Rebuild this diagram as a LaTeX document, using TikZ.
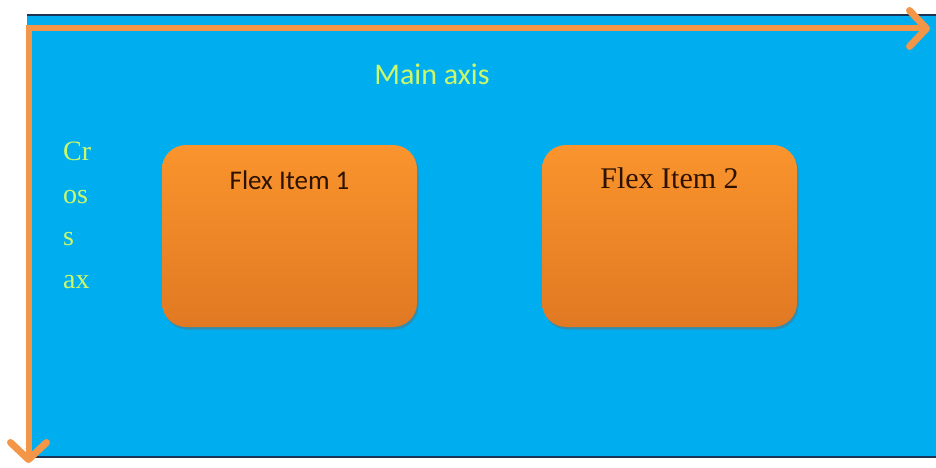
\documentclass[tikz,border=0pt]{standalone}
\usepackage{fontspec}
\newfontfamily\calibriface{Carlito}
\newfontfamily\serifface{Liberation Serif}
\usetikzlibrary{arrows.meta,shadows}
\definecolor{flexblue}{RGB}{0,174,239}
\definecolor{edgenavy}{RGB}{28,52,88}
\definecolor{axisorange}{RGB}{244,150,72}
\definecolor{itemtop}{RGB}{250,148,45}
\definecolor{itembot}{RGB}{224,121,34}
\definecolor{itemtext}{RGB}{45,18,0}
\definecolor{axisgreen}{RGB}{205,248,105}
\tikzset{
  flexitem/.style={rounded corners=24pt, top color=itemtop, bottom color=itembot,
    draw=none, minimum width=255pt, minimum height=182pt, inner sep=0pt,
    drop shadow={shadow xshift=1.5pt, shadow yshift=-2.5pt, fill=black!60, opacity=.45}},
  axisline/.style={line width=6pt, draw=axisorange,
    -{Straight Barb[length=17pt,width=36pt,line width=7pt,round]}},
  axistext/.style={text=axisgreen, inner sep=0pt}
}
\begin{document}
\begin{tikzpicture}[x=1pt, y=-1pt]
  \useasboundingbox (0,0) rectangle (936,468);
  % flex container
  \fill[flexblue] (27,14) rectangle (936,458);
  \draw[edgenavy, line width=2.5pt] (27,15) -- (936,15);
  \draw[edgenavy, line width=2.5pt] (30,457) -- (936,457);
  % axes
  \coordinate (origin) at (28.5,28.5);
  \coordinate (mainend) at (930,28.5);
  \coordinate (crossend) at (28.5,463);
  \draw[axisline] (origin -| 25.5,0) -- (mainend);
  \draw[axisline] (origin |- 0,25.5) -- (crossend);
  \node[axistext, anchor=base, font=\calibriface\fontsize{30}{36}\selectfont] (mainlbl) at (432,85) {Main axis};
  \node[axistext, anchor=north west, align=left, font=\serifface\fontsize{28}{42.5}\selectfont] (crosslbl) at (63,142) {Cr\\os\\s\\ax};
  % flex items
  \node[flexitem, label={[anchor=base, yshift=-45pt, text=itemtext, font=\calibriface\fontsize{27}{32}\selectfont]north:Flex Item 1}] (item1) at (289.5,236) {};
  \node[flexitem, label={[anchor=base, yshift=-44pt, text=itemtext, font=\serifface\fontsize{30}{36}\selectfont]north:Flex Item 2}] (item2) at (669.5,236) {};
\end{tikzpicture}
\end{document}
